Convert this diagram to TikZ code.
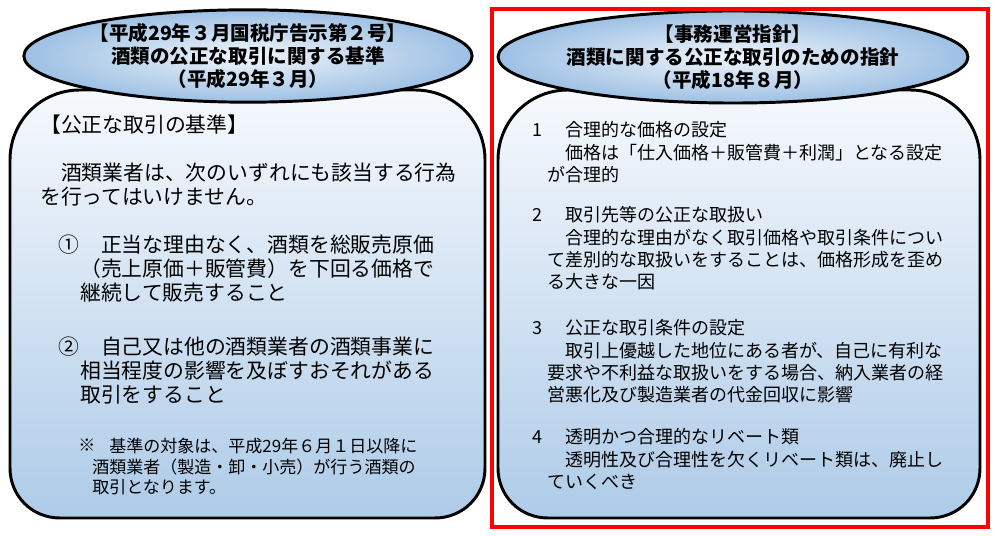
\documentclass[tikz,border=0pt]{standalone}
\usepackage{fontspec}
\setmainfont{Noto Sans CJK JP}
\usepackage{xcolor}
\usetikzlibrary{shapes.geometric}

\definecolor{jarTop}{HTML}{F6F9FD}
\definecolor{jarBot}{HTML}{AECBE8}
\definecolor{capIn}{HTML}{F0F5FB}
\definecolor{capOut}{HTML}{9DC0E4}
\newcommand\headfont{\fontsize{13.9pt}{16.4pt}\selectfont\bfseries}
\newcommand\bigfont{\fontsize{14.8pt}{17.1pt}\selectfont}
\newcommand\notefont{\fontsize{12.1pt}{14.9pt}\selectfont}
\newcommand\itemfont{\fontsize{12.8pt}{15.8pt}\selectfont}

\begin{document}
\begin{tikzpicture}[x=0.025cm,y=-0.025cm,
    jar/.style={draw,line width=2.1pt,top color=jarTop,bottom color=jarBot},
    lid/.style={ellipse,draw,line width=2.1pt,inner color=capIn,outer color=capOut,align=center,inner sep=0pt,font=\headfont},
    txt/.style={anchor=base west,align=left,inner sep=0pt}]
  \useasboundingbox (0,0) rectangle (995,536);
  % left jar (text nodes anchored at the baseline of their last line)
  \path[jar] (10,468) -- (10,160) .. controls (10,121) and (41,90) .. (80,90) -- (415,90)
    .. controls (454,90) and (485,121) .. (485,160) -- (485,468)
    .. controls (485,496) and (463,518) .. (435,518) -- (60,518)
    .. controls (32,518) and (10,496) .. (10,468) -- cycle;
  \node[lid,minimum width=10.95cm,minimum height=1.9cm] (llid) at (248,56)
    {【平成29年３月国税庁告示第２号】\\酒類の公正な取引に関する基準\\（平成29年３月）};
  \node[txt,font=\bigfont] (lsec) at (40,133) {【公正な取引の基準】};
  \node[txt,font=\bigfont] (lpara) at (40,205) {　酒類業者は、次のいずれにも該当する行為\\を行ってはいけません。};
  \node[txt,font=\bigfont] (lno1) at (58,253) {①};
  \node[txt,font=\bigfont] (lit1) at (80,301) {　正当な理由なく、酒類を総販売原価\\（売上原価＋販管費）を下回る価格で\\継続して販売すること};
  \node[txt,font=\bigfont] (lno2) at (58,355) {②};
  \node[txt,font=\bigfont] (lit2) at (80,403) {　自己又は他の酒類業者の酒類事業に\\相当程度の影響を及ぼすおそれがある\\取引をすること};
  \node[txt,font=\notefont] (lmark) at (78,452) {※};
  \node[txt,font=\notefont] (lnote) at (92,494) {　基準の対象は、平成29年６月１日以降に\\酒類業者（製造・卸・小売）が行う酒類の\\取引となります。};
  % right jar
  \path[jar] (498,468) -- (498,160) .. controls (498,121) and (529,90) .. (568,90) -- (910,90)
    .. controls (949,90) and (980,121) .. (980,160) -- (980,468)
    .. controls (980,496) and (958,518) .. (930,518) -- (548,518)
    .. controls (520,518) and (498,496) .. (498,468) -- cycle;
  \node[lid,minimum width=11.08cm,minimum height=2.05cm] (rlid) at (733,57)
    {【事務運営指針】\\酒類に関する公正な取引のための指針\\（平成18年８月）};
  \node[txt,font=\itemfont] (rno1) at (532,137) {1};
  \node[txt,font=\itemfont] (rit1) at (547,181.4) {　合理的な価格の設定\\　価格は「仕入価格＋販管費＋利潤」となる設定\\が合理的};
  \node[txt,font=\itemfont] (rno2) at (532,222) {2};
  \node[txt,font=\itemfont] (rit2) at (547,288.6) {　取引先等の公正な取扱い\\　合理的な理由がなく取引価格や取引条件につい\\て差別的な取扱いをすることは、価格形成を歪め\\る大きな一因};
  \node[txt,font=\itemfont] (rno3) at (532,335) {3};
  \node[txt,font=\itemfont] (rit3) at (547,401.6) {　公正な取引条件の設定\\　取引上優越した地位にある者が、自己に有利な\\要求や不利益な取扱いをする場合、納入業者の経\\営悪化及び製造業者の代金回収に影響};
  \node[txt,font=\itemfont] (rno4) at (532,444) {4};
  \node[txt,font=\itemfont] (rit4) at (547,488.4) {　透明かつ合理的なリベート類\\　透明性及び合理性を欠くリベート類は、廃止し\\ていくべき};
  % red frame
  \draw[red,line width=2.2pt] (492,9) rectangle (988,527);
\end{tikzpicture}
\end{document}
